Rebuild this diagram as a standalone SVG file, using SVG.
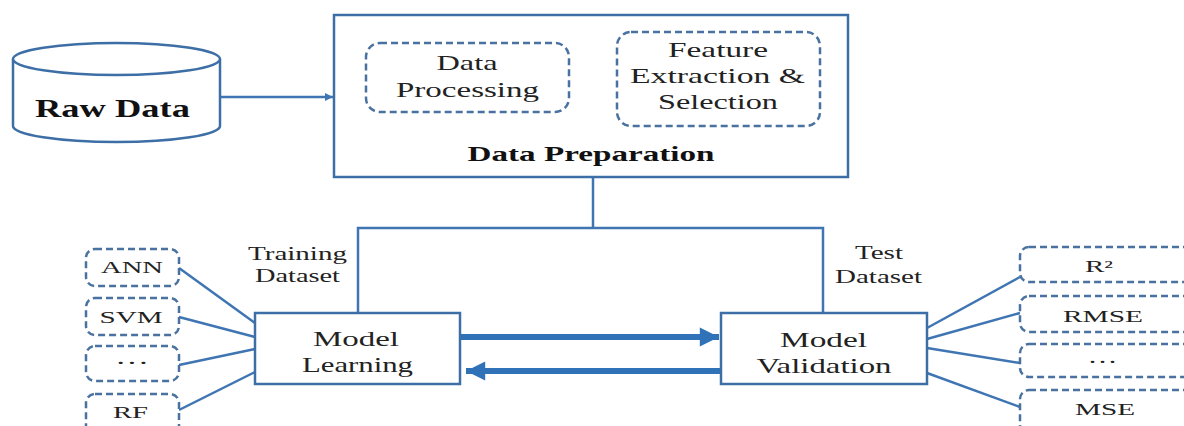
<svg xmlns="http://www.w3.org/2000/svg" width="1184" height="426" viewBox="0 0 1184 426">
<defs>
<style>
.box{fill:#fff;stroke:#3d6fa6;stroke-width:2.5}
.dash{fill:#fff;stroke:#4a72a0;stroke-width:2.5;stroke-dasharray:7 4}
.ln{fill:none;stroke:#3f75b3;stroke-width:2.5}
.thick{fill:none;stroke:#2f72b8;stroke-width:6}
text{font-family:'Liberation Serif','Times New Roman',serif;fill:#222;text-anchor:middle}
.b{font-weight:bold;fill:#111}
</style>
<marker id="ah" viewBox="0 0 10 10" refX="10" refY="5" markerWidth="8" markerHeight="8" markerUnits="userSpaceOnUse" orient="auto"><path d="M0,0 L10,5 L0,10 z" fill="#3f75b3"/></marker>
<marker id="big" viewBox="0 0 10 10" refX="10" refY="5" markerWidth="4.2" markerHeight="3.2" orient="auto"><path d="M0,0 L10,5 L0,10 z" fill="#2f72b8"/></marker>
</defs>
<g id="connectors">
<line class="ln" x1="220" y1="97" x2="333" y2="97" marker-end="url(#ah)"/>
<polyline class="ln" points="593,177 593,228"/>
<polyline class="ln" points="358,313 358,228 823,228 823,313"/>
<line class="ln" x1="179" y1="268" x2="255" y2="323"/>
<line class="ln" x1="179" y1="317" x2="255" y2="337"/>
<line class="ln" x1="179" y1="365" x2="255" y2="349"/>
<line class="ln" x1="179" y1="410" x2="255" y2="372"/>
<line class="ln" x1="927" y1="328" x2="1020" y2="277"/>
<line class="ln" x1="927" y1="339" x2="1020" y2="313"/>
<line class="ln" x1="927" y1="348" x2="1020" y2="363"/>
<line class="ln" x1="927" y1="373" x2="1020" y2="407"/>
<line class="thick" x1="460" y1="337" x2="719" y2="337" marker-end="url(#big)"/>
<line class="thick" x1="721" y1="371" x2="466" y2="371" marker-end="url(#big)"/>
</g>
<g id="raw-data">
<path class="box" d="M13,59 L13,126 A103.5,16 0 0 0 220,126 L220,59"/>
<ellipse class="box" cx="116.5" cy="59" rx="103.5" ry="16"/>
<text class="b" x="112.5" y="117" font-size="26" textLength="155" lengthAdjust="spacingAndGlyphs">Raw Data</text>
</g>
<g id="data-preparation">
<rect class="box" x="334" y="15" width="514" height="162"/>
<text class="b" x="591" y="161" font-size="21" textLength="247" lengthAdjust="spacingAndGlyphs">Data Preparation</text>
</g>
<g id="data-processing">
<rect class="dash" x="366" y="43" width="203" height="69" rx="14"/>
<text x="467" y="70" font-size="21" textLength="61" lengthAdjust="spacingAndGlyphs">Data</text>
<text x="467.5" y="97" font-size="21" textLength="143" lengthAdjust="spacingAndGlyphs">Processing</text>
</g>
<g id="feature-extraction">
<rect class="dash" x="617" y="32" width="203" height="94" rx="14"/>
<text x="718" y="57" font-size="21" textLength="100" lengthAdjust="spacingAndGlyphs">Feature</text>
<text x="717.5" y="83" font-size="21" textLength="175" lengthAdjust="spacingAndGlyphs">Extraction &amp;</text>
<text x="718" y="109" font-size="21" textLength="120" lengthAdjust="spacingAndGlyphs">Selection</text>
</g>
<g id="training-label">
<text x="297.5" y="260" font-size="19" textLength="99" lengthAdjust="spacingAndGlyphs">Training</text>
<text x="297.5" y="282" font-size="19" textLength="85" lengthAdjust="spacingAndGlyphs">Dataset</text>
</g>
<g id="test-label">
<text x="879" y="259" font-size="19" textLength="48" lengthAdjust="spacingAndGlyphs">Test</text>
<text x="878.5" y="283" font-size="19" textLength="87" lengthAdjust="spacingAndGlyphs">Dataset</text>
</g>
<g id="model-learning">
<rect class="box" x="255" y="313" width="205" height="71"/>
<text x="356" y="346" font-size="21" textLength="86" lengthAdjust="spacingAndGlyphs">Model</text>
<text x="357.5" y="372" font-size="21" textLength="111" lengthAdjust="spacingAndGlyphs">Learning</text>
</g>
<g id="model-validation">
<rect class="box" x="721" y="313" width="206" height="71"/>
<text x="823.5" y="347" font-size="21" textLength="87" lengthAdjust="spacingAndGlyphs">Model</text>
<text x="824" y="373" font-size="21" textLength="135" lengthAdjust="spacingAndGlyphs">Validation</text>
</g>
<g id="ann"><rect class="dash" x="86" y="249" width="93" height="37" rx="9"/><text x="132" y="273" font-size="16" textLength="62" lengthAdjust="spacingAndGlyphs">ANN</text></g>
<g id="svm"><rect class="dash" x="86" y="298" width="93" height="37" rx="9"/><text x="131" y="323" font-size="16" textLength="63" lengthAdjust="spacingAndGlyphs">SVM</text></g>
<g id="dots-left"><rect class="dash" x="86" y="346" width="93" height="35" rx="9"/><text x="132" y="369" font-size="18" textLength="34" lengthAdjust="spacingAndGlyphs">···</text></g>
<g id="rf"><rect class="dash" x="86" y="394" width="93" height="40" rx="9"/><text x="130.5" y="418" font-size="16" textLength="35" lengthAdjust="spacingAndGlyphs">RF</text></g>
<g id="r2"><rect class="dash" x="1020" y="247" width="180" height="35" rx="9"/><text x="1099" y="272" font-size="16" textLength="28" lengthAdjust="spacingAndGlyphs">R²</text></g>
<g id="rmse"><rect class="dash" x="1020" y="296" width="180" height="36" rx="9"/><text x="1103" y="322" font-size="16" textLength="80" lengthAdjust="spacingAndGlyphs">RMSE</text></g>
<g id="dots-right"><rect class="dash" x="1020" y="344" width="180" height="33" rx="9"/><text x="1102.5" y="368" font-size="18" textLength="30" lengthAdjust="spacingAndGlyphs">···</text></g>
<g id="mse"><rect class="dash" x="1020" y="390" width="180" height="44" rx="9"/><text x="1105" y="415" font-size="16" textLength="60" lengthAdjust="spacingAndGlyphs">MSE</text></g>
</svg>
